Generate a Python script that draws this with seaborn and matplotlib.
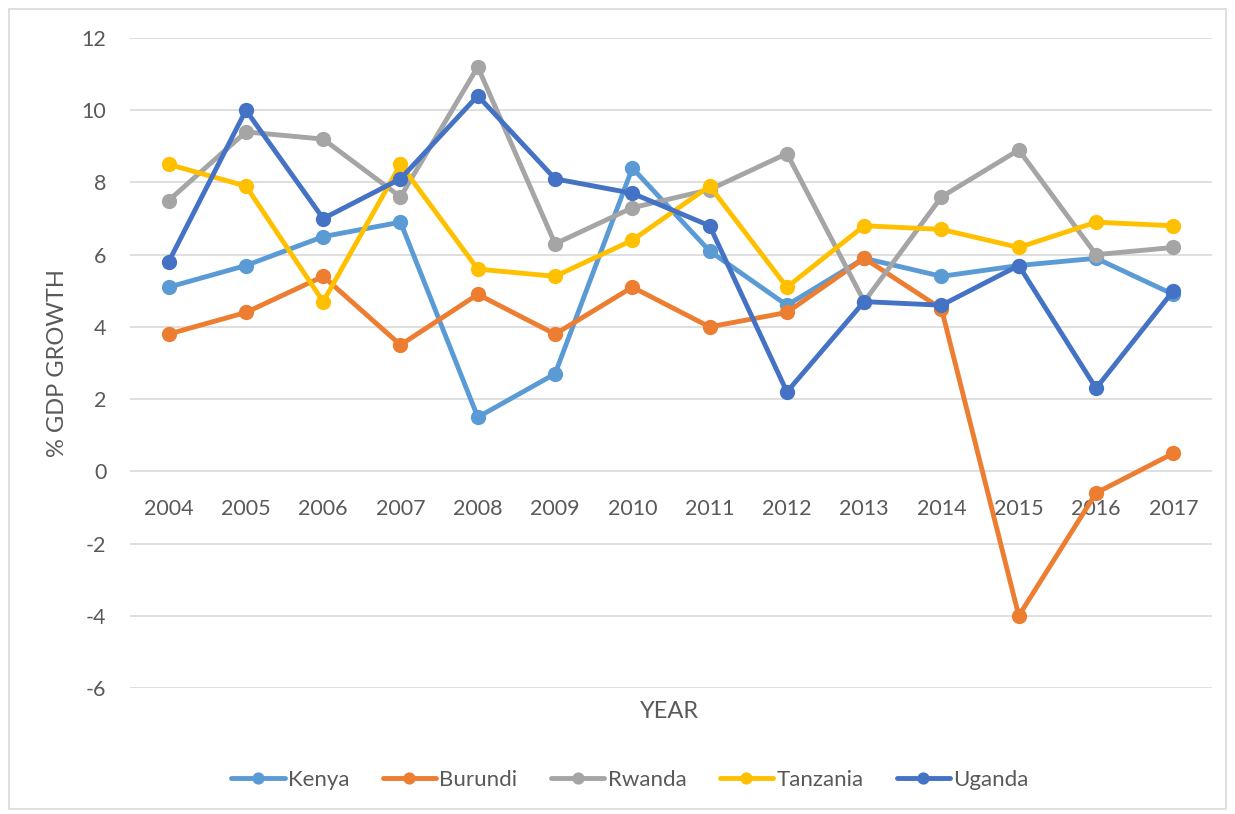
import pandas as pd
import numpy as np
import matplotlib.pyplot as plt
import seaborn as sns
from matplotlib.patches import Rectangle

# GDP growth (%) by country
years = [2004, 2005, 2006, 2007, 2008, 2009, 2010, 2011, 2012, 2013, 2014, 2015, 2016, 2017]
kenya = [5.1, 5.7, 6.5, 6.9, 1.5, 2.7, 8.4, 6.1, 4.6, 5.9, 5.4, 5.7, 5.9, 4.9]
burundi = [3.8, 4.4, 5.4, 3.5, 4.9, 3.8, 5.1, 4.0, 4.4, 5.9, 4.5, -4.0, -0.6, 0.5]
rwanda = [7.5, 9.4, 9.2, 7.6, 11.2, 6.3, 7.3, 7.8, 8.8, 4.7, 7.6, 8.9, 6.0, 6.2]
tanzania = [8.5, 7.9, 4.7, 8.5, 5.6, 5.4, 6.4, 7.9, 5.1, 6.8, 6.7, 6.2, 6.9, 6.8]
uganda = [5.8, 10.0, 7.0, 8.1, 10.4, 8.1, 7.7, 6.8, 2.2, 4.7, 4.6, 5.7, 2.3, 5.0]

countries = ['Kenya', 'Burundi', 'Rwanda', 'Tanzania', 'Uganda']
colors = ['#5B9BD5', '#ED7D31', '#A5A5A5', '#FFC000', '#4472C4']
yticks = [-6, -4, -2, 0, 2, 4, 6, 8, 10, 12]

df = pd.DataFrame({'Year': years, 'Kenya': kenya, 'Burundi': burundi,
                   'Rwanda': rwanda, 'Tanzania': tanzania, 'Uganda': uganda})
long_df = df.melt(id_vars='Year', var_name='Country', value_name='Growth')

sns.set_style('white')
plt.rcParams['font.family'] = ['Lato', 'DejaVu Sans']
plt.rcParams['axes.unicode_minus'] = False
text_col = '#595959'

fig = plt.figure(figsize=(12.35, 8.14), dpi=100)
ax = fig.add_axes([130 / 1235, 1 - 688 / 814, (1212 - 130) / 1235, (688 - 38) / 814])

sns.lineplot(data=long_df, x='Year', y='Growth', hue='Country', hue_order=countries,
             palette=colors, marker='o', markersize=11, markeredgewidth=0,
             linewidth=3.5, ax=ax, legend=True)

ax.set_xlim(years[0] - 0.5, years[-1] + 0.5)
ax.set_ylim(-6, 12)
ax.set_yticks(yticks)
ax.set_xticks(years)
ax.set_xticklabels([str(y) for y in years])
ax.grid(axis='y', color='#D9D9D9', linewidth=1.2)
ax.grid(axis='x', visible=False)
ax.set_axisbelow(True)
for s in ['top', 'right', 'left']:
    ax.spines[s].set_visible(False)
ax.spines['bottom'].set_position(('data', 0))
ax.spines['bottom'].set_visible(False)
ax.tick_params(axis='both', length=0, labelsize=15.5, colors=text_col)
ax.tick_params(axis='x', pad=20)
ax.tick_params(axis='y', pad=17)

ax.set_xlabel('')
ax.set_ylabel('% GDP GROWTH', fontsize=17, color=text_col, labelpad=10)
fig.text(670 / 1235, 1 - 711 / 814, 'YEAR', ha='center', va='center', fontsize=17, color=text_col)

handles, labels = ax.get_legend_handles_labels()
ax.get_legend().remove()
fig.legend(handles, labels, loc='center', bbox_to_anchor=(630 / 1235, 1 - 780 / 814),
           ncol=5, frameon=False, fontsize=16, handlelength=2.4, handletextpad=0.15,
           columnspacing=1.5, labelcolor=text_col, markerscale=0.8)

fig.patches.append(Rectangle((9 / 1235, 5 / 814), 1217 / 1235, 800 / 814, transform=fig.transFigure,
                             fill=False, edgecolor='#D9D9D9', linewidth=1.2))

fig.savefig('out.png', dpi=100)
